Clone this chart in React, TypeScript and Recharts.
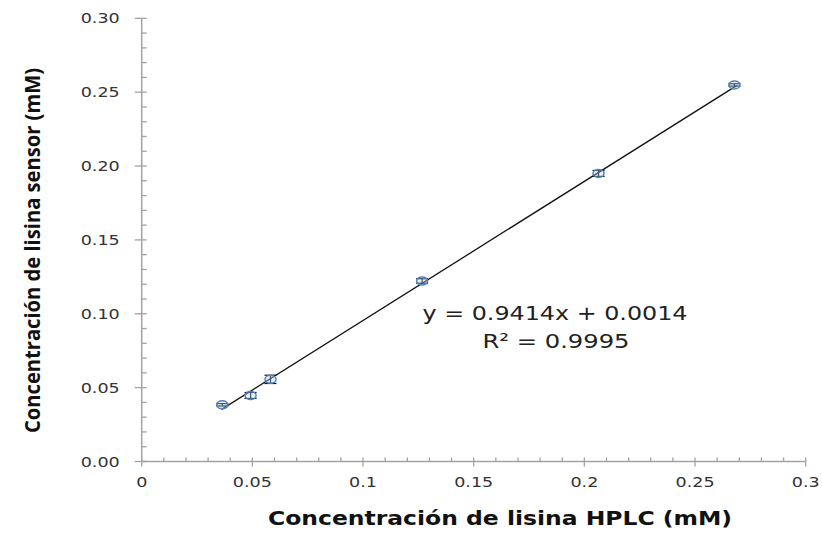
import React from 'react';
import { ScatterChart, Scatter, XAxis, YAxis, ErrorBar, Label } from 'recharts';

// measured points: HPLC (x) vs sensor (y), with small y error
const HPLC = [0.0364, 0.0492, 0.0582, 0.1267, 0.2064, 0.2678];
const SENSOR = [0.0384, 0.0447, 0.0556, 0.1222, 0.195, 0.2549];
const SENSOR_ERR = [0.0008, 0.002, 0.0028, 0.0015, 0.002, 0.0008];

// linear trendline ends, as drawn
const TREND_X = [0.0361, 0.2688];
const TREND_Y = [0.0353, 0.2544];

const X_TICKS = [
  0, 0.01, 0.02, 0.03, 0.04, 0.05, 0.06, 0.07, 0.08, 0.09, 0.1, 0.11, 0.12, 0.13, 0.14, 0.15,
  0.16, 0.17, 0.18, 0.19, 0.2, 0.21, 0.22, 0.23, 0.24, 0.25, 0.26, 0.27, 0.28, 0.29, 0.3,
];
const Y_TICKS = X_TICKS;

const EQUATION = 'y = 0.9414x + 0.0014';
const R2 = 'R² = 0.9995';
const X_TITLE = 'Concentración de lisina HPLC (mM)';
const Y_TITLE = 'Concentración de lisina sensor (mM)';

const points = HPLC.map((x, i) => ({ x, y: SENSOR[i], err: SENSOR_ERR[i] }));
const trend = TREND_X.map((x, i) => ({ x, y: TREND_Y[i] }));

const AXIS = '#a3a3a3';
const TICK_FONT = "'DejaVu Sans', Verdana, sans-serif";

const isMajor = (v: number) => Math.round(v * 100) % 5 === 0;

const XTick = (props: any) => {
  const { x, y, payload } = props;
  const v = payload.value;
  const major = isMajor(v);
  return (
    <g>
      <line x1={x} x2={x} y1={y - 4} y2={major ? y + 5 : y} stroke={AXIS} strokeWidth={1.3} />
      {major && (
        <text
          transform={`translate(${x},${y + 25}) scale(1.3,1)`}
          textAnchor="middle"
          fontFamily={TICK_FONT}
          fontSize={13.5}
          fill="#333"
        >
          {String(v)}
        </text>
      )}
    </g>
  );
};

const YTick = (props: any) => {
  const { x, y, payload } = props;
  const v = payload.value;
  const major = isMajor(v);
  return (
    <g>
      <line x1={major ? x - 7 : x} x2={x + 5} y1={y} y2={y} stroke={AXIS} strokeWidth={1.3} />
      {major && (
        <text
          transform={`translate(${x - 22},${y + 5}) scale(1.3,1)`}
          textAnchor="end"
          fontFamily={TICK_FONT}
          fontSize={13.5}
          fill="#333"
        >
          {v.toFixed(2)}
        </text>
      )}
    </g>
  );
};

const Marker = (props: any) => {
  const { cx, cy } = props;
  return (
    <ellipse
      cx={cx}
      cy={cy}
      rx={5.5}
      ry={4}
      fill="rgba(190,210,235,0.35)"
      stroke="#4a84c4"
      strokeWidth={1.5}
    />
  );
};

const XTitle = () => (
  <g>
    <text
      x={500}
      y={525}
      textAnchor="middle"
      fontFamily={TICK_FONT}
      fontWeight="bold"
      fontSize={20}
      fill="#111"
      textLength={464}
      lengthAdjust="spacingAndGlyphs"
    >
      {X_TITLE}
    </text>
    <text
      x={555}
      y={320}
      textAnchor="middle"
      fontFamily={TICK_FONT}
      fontSize={19.5}
      fill="#222"
      textLength={265}
      lengthAdjust="spacingAndGlyphs"
    >
      {EQUATION}
    </text>
    <text
      x={556}
      y={348}
      textAnchor="middle"
      fontFamily={TICK_FONT}
      fontSize={19.5}
      fill="#222"
      textLength={147}
      lengthAdjust="spacingAndGlyphs"
    >
      {R2}
    </text>
  </g>
);

const YTitle = () => (
  <text
    transform="translate(40,250.5) rotate(-90)"
    textAnchor="middle"
    fontFamily="'Liberation Sans Narrow', 'Open Sans', sans-serif"
    fontWeight="bold"
    fontSize={21}
    fill="#111"
    textLength={365}
    lengthAdjust="spacingAndGlyphs"
  >
    {Y_TITLE}
  </text>
);

export default function App() {
  return (
    <div style={{ position: 'absolute', left: 0, top: 0, width: 822, height: 534, background: '#fff' }}>
      <ScatterChart width={822} height={534} margin={{ top: 18.3, right: 16.3, bottom: 0, left: 0 }}>
        <XAxis
          type="number"
          dataKey="x"
          domain={[0, 0.3]}
          ticks={X_TICKS}
          interval={0}
          height={72.5}
          tickSize={0}
          tickMargin={0}
          tickLine={false}
          axisLine={{ stroke: AXIS, strokeWidth: 1.5 }}
          tick={<XTick />}
        >
          <Label content={<XTitle />} />
        </XAxis>
        <YAxis
          type="number"
          dataKey="y"
          domain={[0, 0.3]}
          ticks={Y_TICKS}
          interval={0}
          width={141.7}
          tickSize={0}
          tickMargin={0}
          tickLine={false}
          axisLine={{ stroke: AXIS, strokeWidth: 1.5 }}
          tick={<YTick />}
        >
          <Label content={<YTitle />} />
        </YAxis>
        <Scatter
          data={trend}
          line={{ stroke: '#111', strokeWidth: 1.3 }}
          shape={() => <g />}
          isAnimationActive={false}
        />
        <Scatter data={points} shape={<Marker />} isAnimationActive={false}>
          <ErrorBar dataKey="err" direction="y" width={6} stroke="#111" strokeWidth={1.2} isAnimationActive={false} />
        </Scatter>
      </ScatterChart>
    </div>
  );
}
